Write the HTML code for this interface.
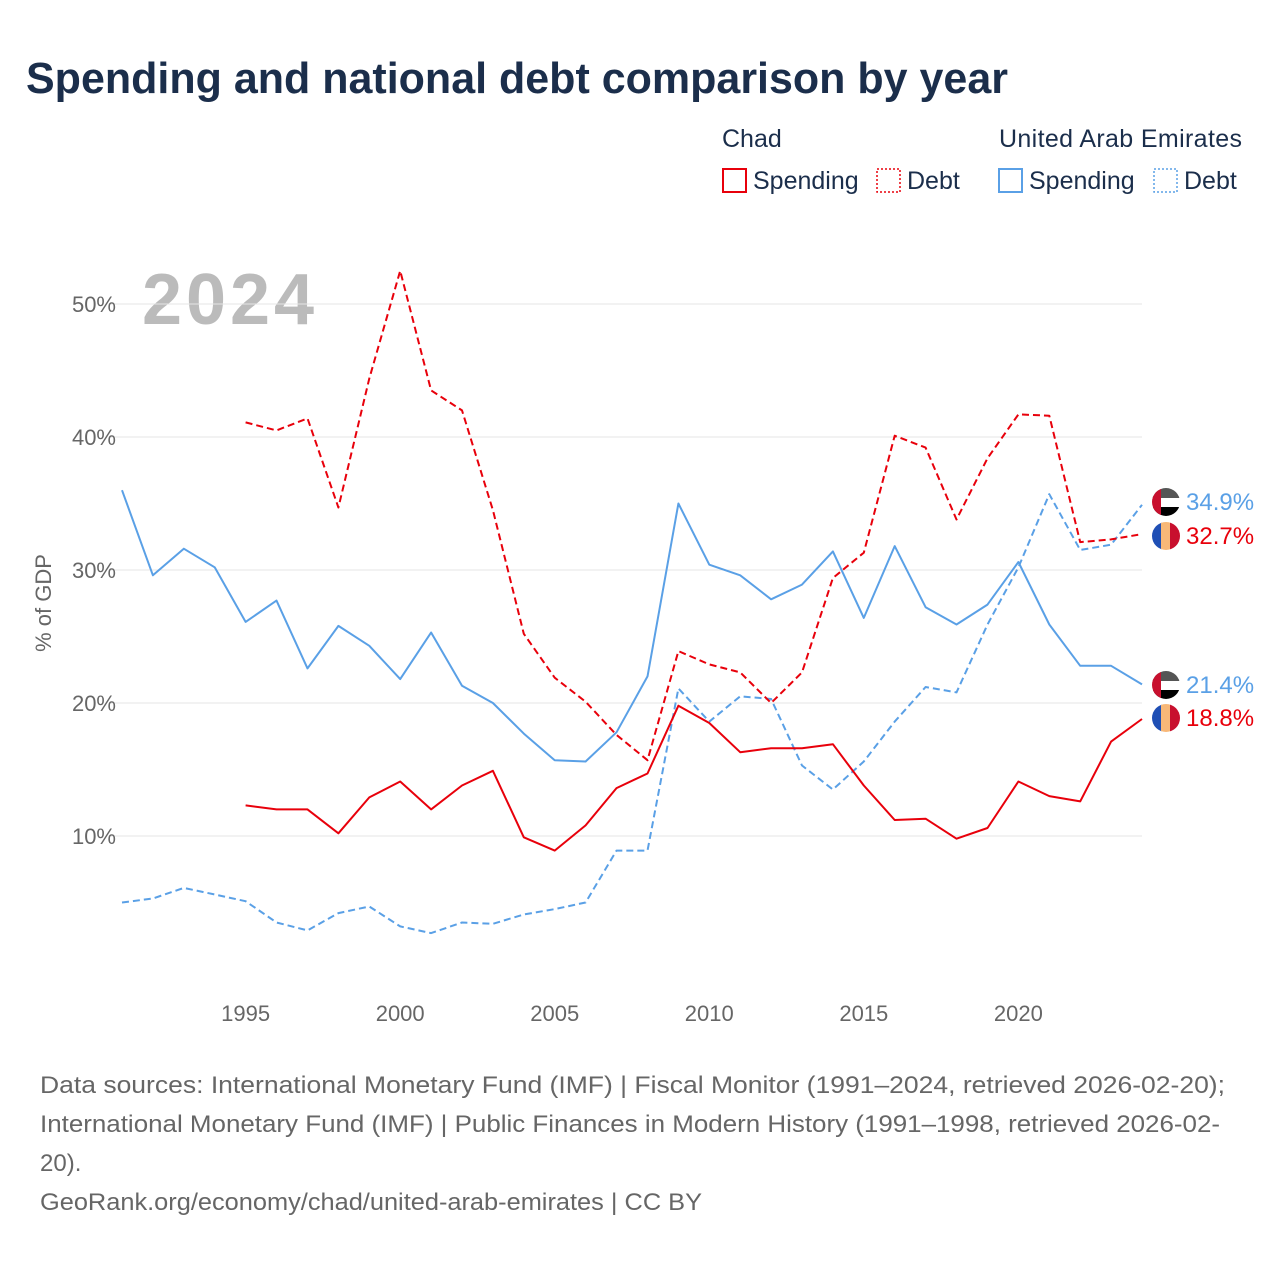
<!DOCTYPE html>
<html><head><meta charset="utf-8"><style>
body{margin:0;background:#fff;font-family:"Liberation Sans",sans-serif;}
</style></head><body>
<svg id="c" width="1280" height="1280" xmlns="http://www.w3.org/2000/svg">
<text x="26" y="93" font-size="44" font-weight="bold" fill="#1b2e4b" textLength="982" lengthAdjust="spacingAndGlyphs">Spending and national debt comparison by year</text>
<g font-size="25" fill="#1b2e4b">
<text x="722" y="147">Chad</text>
<text x="999" y="147" textLength="243">United Arab Emirates</text>
<rect x="723" y="169" width="23" height="23" fill="none" stroke="#e8000b" stroke-width="2"/>
<text x="753" y="189">Spending</text>
<rect x="877" y="169" width="23" height="23" fill="none" stroke="#e8000b" stroke-width="1.5" stroke-dasharray="2,2"/>
<text x="907" y="189">Debt</text>
<rect x="999" y="169" width="23" height="23" fill="none" stroke="#5aa0e6" stroke-width="2"/>
<text x="1029" y="189">Spending</text>
<rect x="1154" y="169" width="23" height="23" fill="none" stroke="#5aa0e6" stroke-width="1.5" stroke-dasharray="2,2"/>
<text x="1184" y="189">Debt</text>
</g>
<text x="142" y="324" font-size="72" font-weight="bold" fill="#bbbbbb" textLength="172">2024</text>
<text transform="translate(51,603) rotate(-90)" text-anchor="middle" font-size="22" fill="#666">% of GDP</text>
<g id="grid"></g><g id="lines"></g><g id="labels"></g>
<g font-size="24" fill="#666">
<text x="40" y="1093" textLength="1185" lengthAdjust="spacingAndGlyphs">Data sources: International Monetary Fund (IMF) | Fiscal Monitor (1991–2024, retrieved 2026-02-20);</text>
<text x="40" y="1132" textLength="1180" lengthAdjust="spacingAndGlyphs">International Monetary Fund (IMF) | Public Finances in Modern History (1991–1998, retrieved 2026-02-</text>
<text x="40" y="1171">20).</text>
<text x="40" y="1210" textLength="662" lengthAdjust="spacingAndGlyphs">GeoRank.org/economy/chad/united-arab-emirates | CC BY</text>
</g>
<defs><clipPath id="cp1"><circle cx="1166" cy="502" r="14"/></clipPath><clipPath id="cp2"><circle cx="1166" cy="536" r="14"/></clipPath>
<clipPath id="cp3"><circle cx="1166" cy="685" r="14"/></clipPath><clipPath id="cp4"><circle cx="1166" cy="718" r="14"/></clipPath></defs>
</svg>
<script>
const years=[];for(let y=1991;y<=2024;y++)years.push(y);
const yTicks=[10,20,30,40,50];
const xTicks=[1995,2000,2005,2010,2015,2020];
const uaeSpending=[36.0,29.6,31.6,30.2,26.1,27.7,22.6,25.8,24.3,21.8,25.3,21.3,20.0,17.7,15.7,15.6,17.8,22.0,35.0,30.4,29.6,27.8,28.9,31.4,26.4,31.8,27.2,25.9,27.4,30.6,25.9,22.8,22.8,21.4];
const uaeDebt=[5.0,5.3,6.1,5.6,5.1,3.5,2.9,4.2,4.7,3.2,2.7,3.5,3.4,4.1,4.5,5.0,8.9,8.9,21.1,18.6,20.5,20.3,15.3,13.5,15.6,18.6,21.2,20.8,25.9,30.2,35.7,31.5,31.9,34.9];
const chadSpending=[null,null,null,null,12.3,12.0,12.0,10.2,12.9,14.1,12.0,13.8,14.9,9.9,8.9,10.8,13.6,14.7,19.8,18.5,16.3,16.6,16.6,16.9,13.8,11.2,11.3,9.8,10.6,14.1,13.0,12.6,17.1,18.8];
const chadDebt=[null,null,null,null,41.1,40.5,41.4,34.7,44.4,52.5,43.5,42.0,34.5,25.2,21.9,20.1,17.6,15.7,23.9,22.9,22.3,20.0,22.3,29.4,31.3,40.1,39.2,33.8,38.4,41.7,41.6,32.1,32.3,32.7];
const NS="http://www.w3.org/2000/svg";
const X=y=>122+(y-1991)*(1142-122)/33;
const Y=v=>969-v*13.3;
function mk(t,a,p){const e=document.createElementNS(NS,t);for(const k in a)e.setAttribute(k,a[k]);p.appendChild(e);return e;}
const grid=document.getElementById('grid');
yTicks.forEach(v=>{
 const l=mk('line',{x1:110,x2:1142,y1:Y(v),y2:Y(v),stroke:'#e6e6e6','stroke-width':1},grid);
 
 
 const t=mk('text',{x:116,y:Y(v)+8,'text-anchor':'end','font-size':22,fill:'#666'},grid);t.textContent=v+'%';
 
 
});
xTicks.forEach(yr=>{
 const t=mk('text',{x:X(yr),y:1021,'text-anchor':'middle','font-size':22,fill:'#666'},grid);t.textContent=yr;
 
 
});
const lines=document.getElementById('lines');
function draw(data,color,dash,name){
 let d='';data.forEach((v,i)=>{if(v==null)return;d+=(d?'L':'M')+X(years[i]).toFixed(1)+','+Y(v).toFixed(1);});
 const p=mk('path',{d:d,fill:'none',stroke:color,'stroke-width':2,'stroke-dasharray':dash,'stroke-linejoin':'round'},lines);
 
 
}
draw(uaeSpending,'#5aa0e6','none','uae-spending-line');
draw(uaeDebt,'#5aa0e6','7,4','uae-debt-line');
draw(chadSpending,'#e8000b','none','chad-spending-line');
draw(chadDebt,'#e8000b','7,4','chad-debt-line');
const lab=document.getElementById('labels');
function uae(cy,cp){const g=mk('g',{'clip-path':'url(#'+cp+')'},lab);
 mk('rect',{x:1152,y:cy-14,width:28,height:10,fill:'#555'},g);mk('rect',{x:1152,y:cy-4,width:28,height:9,fill:'#fff'},g);
 mk('rect',{x:1152,y:cy+5,width:28,height:10,fill:'#000'},g);mk('rect',{x:1152,y:cy-14,width:9,height:28,fill:'#c8102e'},g);
 
 }
function chad(cy,cp){const g=mk('g',{'clip-path':'url(#'+cp+')'},lab);
 mk('rect',{x:1152,y:cy-14,width:10,height:28,fill:'#1f4fb5'},g);mk('rect',{x:1161,y:cy-14,width:10,height:28,fill:'#f8b878'},g);
 mk('rect',{x:1170,y:cy-14,width:10,height:28,fill:'#c8102e'},g);
 
 }
uae(502,'cp1');chad(536,'cp2');uae(685,'cp3');chad(718,'cp4');
[[uaeDebt,510,'#5aa0e6','uae-debt-value'],[chadDebt,544,'#e8000b','chad-debt-value'],[uaeSpending,693,'#5aa0e6','uae-spending-value'],[chadSpending,726,'#e8000b','chad-spending-value']].forEach(a=>{
 const t=mk('text',{x:1186,y:a[1],'font-size':24,fill:a[2]},lab);t.textContent=a[0][a[0].length-1].toFixed(1)+'%';
 
 
});
</script>
</body></html>
